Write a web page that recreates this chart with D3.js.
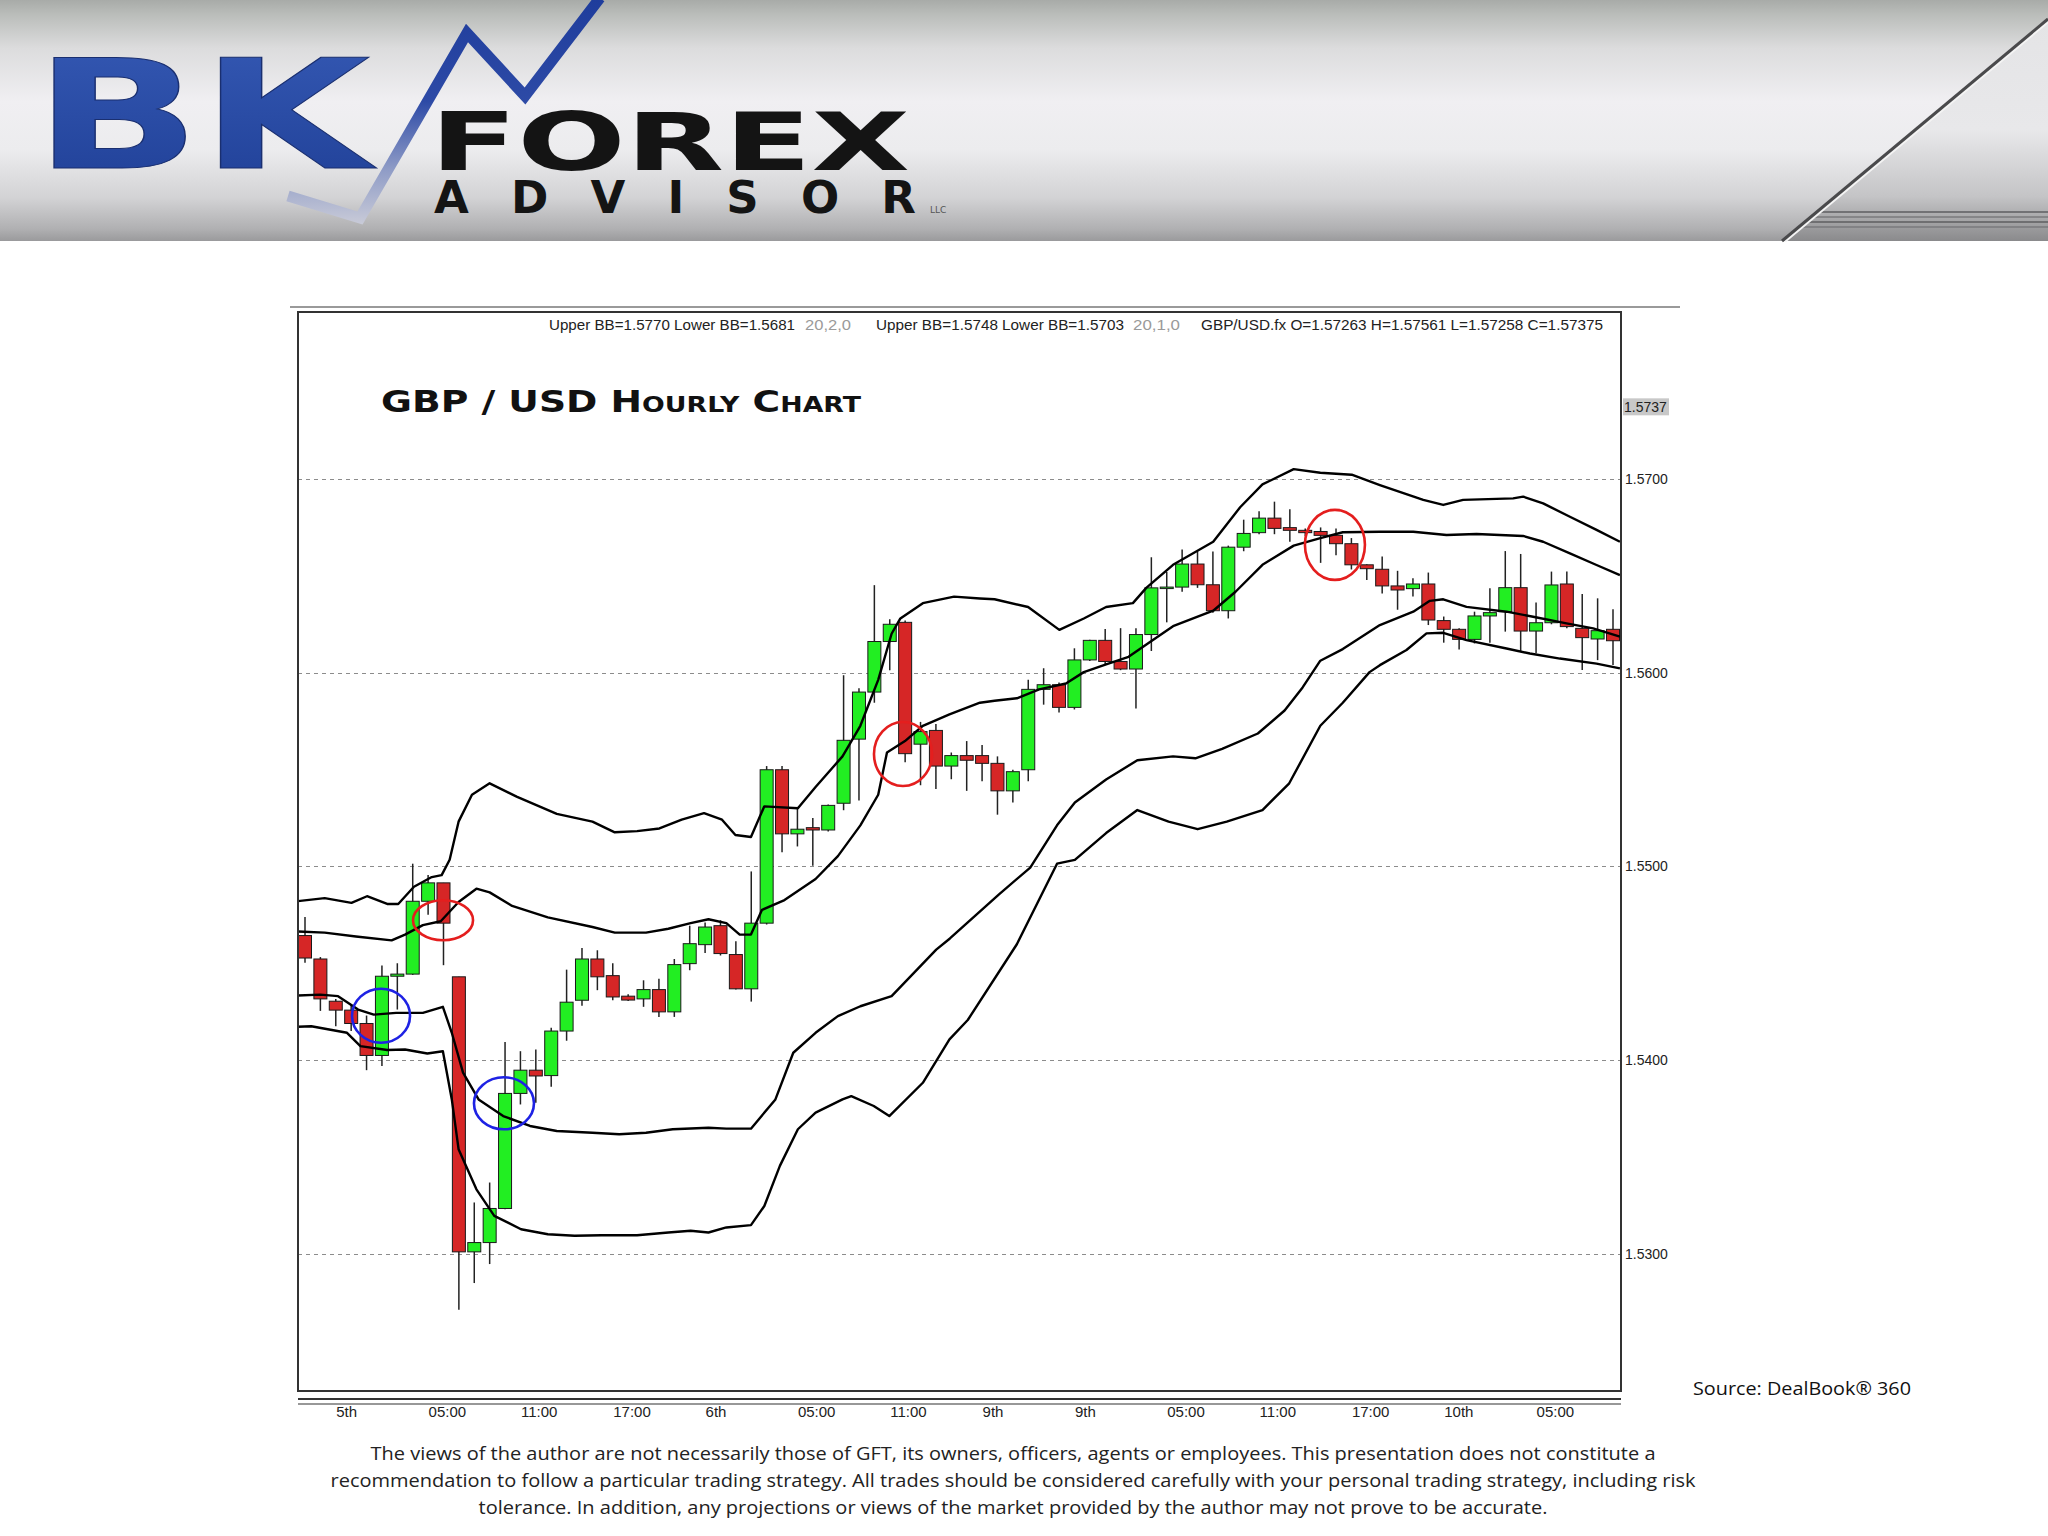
<!DOCTYPE html>
<html><head><meta charset="utf-8">
<script src="https://cdn.jsdelivr.net/npm/d3@7"></script>
<style>body{margin:0;background:#fff}svg{display:block}</style>
</head><body><svg id="c" width="2048" height="1536"></svg>
<script>
// ---------------- DATA ----------------
const opens = [1.54643,1.54522,1.54304,1.54258,1.54189,1.54024,1.54433,1.54444,1.54820,1.54915,
1.54430,1.53010,1.53058,1.53234,1.53828,1.53948,1.53920,1.54150,1.54309,1.54522,
1.54436,1.54330,1.54316,1.54364,1.54249,1.54498,1.54596,1.54694,1.54545,1.54368,
1.54707,1.55499,1.55168,1.55200,1.55188,1.55326,1.55657,1.55900,1.56161,1.56260,
1.55631,1.55702,1.55518,1.55572,1.55572,1.55532,1.55390,1.55499,1.55914,1.55938,
1.55821,1.56066,1.56167,1.56058,1.56019,1.56197,1.56438,1.56442,1.56561,1.56454,
1.56320,1.56648,1.56723,1.56798,1.56749,1.56735,1.56729,1.56709,1.56666,1.56557,
1.56534,1.56448,1.56434,1.56458,1.56269,1.56224,1.56172,1.56293,1.56315,1.56439,
1.56215,1.56258,1.56458,1.56229,1.56174,1.56224];
const highs = [1.54739,1.54532,1.54316,1.54290,1.54230,1.54488,1.54500,1.55014,1.54955,1.54915,
1.54430,1.53265,1.53368,1.54093,1.54046,1.54055,1.54167,1.54467,1.54579,1.54567,
1.54500,1.54340,1.54412,1.54420,1.54522,1.54694,1.54711,1.54722,1.54613,1.54974,
1.55518,1.55518,1.55307,1.55250,1.55320,1.55987,1.55920,1.56452,1.56276,1.56270,
1.55746,1.55735,1.55588,1.55647,1.55627,1.55568,1.55499,1.55963,1.56023,1.55950,
1.56126,1.56170,1.56225,1.56230,1.56230,1.56596,1.56520,1.56636,1.56626,1.56626,
1.56656,1.56790,1.56834,1.56883,1.56844,1.56745,1.56750,1.56745,1.56695,1.56560,
1.56600,1.56526,1.56488,1.56517,1.56290,1.56230,1.56315,1.56436,1.56628,1.56613,
1.56362,1.56522,1.56522,1.56406,1.56384,1.56327];
const lows = [1.54502,1.54254,1.54175,1.54150,1.53948,1.53969,1.54261,1.54440,1.54750,1.54490,
1.52711,1.52849,1.52947,1.53230,1.53771,1.53780,1.53863,1.54100,1.54280,1.54361,
1.54309,1.54305,1.54275,1.54223,1.54223,1.54464,1.54553,1.54540,1.54364,1.54302,
1.54700,1.55073,1.55103,1.55004,1.55180,1.55290,1.55340,1.55845,1.56013,1.55538,
1.55419,1.55400,1.55450,1.55390,1.55439,1.55267,1.55330,1.55439,1.55835,1.55795,
1.55810,1.56060,1.56040,1.56013,1.55815,1.56112,1.56260,1.56418,1.56438,1.56310,
1.56280,1.56627,1.56715,1.56715,1.56676,1.56705,1.56567,1.56606,1.56533,1.56478,
1.56409,1.56325,1.56393,1.56246,1.56155,1.56120,1.56151,1.56155,1.56212,1.56108,
1.56100,1.56250,1.56230,1.56014,1.56065,1.56040];
const closes = [1.54527,1.54316,1.54258,1.54189,1.54024,1.54433,1.54444,1.54820,1.54915,1.54707,
1.53010,1.53058,1.53234,1.53828,1.53948,1.53918,1.54150,1.54299,1.54522,1.54430,
1.54326,1.54310,1.54364,1.54249,1.54493,1.54601,1.54687,1.54550,1.54368,1.54707,
1.55499,1.55168,1.55192,1.55188,1.55315,1.55651,1.55900,1.56161,1.56250,1.55582,
1.55696,1.55518,1.55572,1.55548,1.55532,1.55390,1.55489,1.55914,1.55938,1.55821,
1.56066,1.56167,1.56058,1.56019,1.56197,1.56438,1.56442,1.56561,1.56454,1.56320,
1.56648,1.56719,1.56798,1.56745,1.56735,1.56723,1.56709,1.56666,1.56557,1.56537,
1.56448,1.56427,1.56458,1.56272,1.56224,1.56172,1.56293,1.56310,1.56439,1.56215,
1.56258,1.56453,1.56238,1.56181,1.56217,1.56165];

// Bollinger lines: [candle position, price]
const upperBB2 = [[-0.52,1.5482],[1.28,1.54836],[3.02,1.54812],[4.03,1.54846],[5.34,1.54806],[6.06,1.54806],[7.08,1.54895],[8.24,1.54945],[8.88,1.54955],[9.4,1.55034],[9.98,1.55231],[10.85,1.5537],[12.0,1.55429],[13.75,1.5536],[16.36,1.55271],[18.68,1.55231],[20.13,1.55176],[21.58,1.55182],[23.03,1.55196],[24.48,1.55241],[25.93,1.55275],[27.1,1.55241],[27.97,1.55162],[28.98,1.55152],[29.85,1.5531],[32.03,1.553],[33.18,1.5541],[34.93,1.55568],[36.09,1.55726],[37.25,1.55963],[38.12,1.56201],[38.69,1.5628],[40.15,1.56359],[42.18,1.56393],[43.86,1.56383],[44.81,1.56379],[46.99,1.56339],[49.02,1.56221],[50.61,1.5628],[52.06,1.56339],[53.8,1.56359],[54.67,1.56438],[56.41,1.56557],[59.02,1.56676],[60.77,1.56854],[62.22,1.56972],[64.25,1.57051],[65.98,1.57032],[68.02,1.57022],[69.85,1.56969],[72.67,1.56892],[73.97,1.56866],[75.26,1.56892],[78.51,1.569],[79.16,1.56909],[80.46,1.56874],[82.2,1.56805],[83.93,1.56737],[85.45,1.56676]];
const upperBB1 = [[-0.52,1.54664],[1.28,1.54658],[3.31,1.54638],[5.63,1.54618],[6.5,1.54648],[7.66,1.54697],[8.82,1.54717],[9.98,1.54816],[11.14,1.54885],[12.0,1.54866],[13.46,1.54796],[15.78,1.54737],[18.68,1.54687],[20.13,1.54658],[22.16,1.54658],[23.61,1.54678],[25.06,1.54707],[26.22,1.54727],[27.38,1.54707],[28.25,1.54648],[28.98,1.54648],[29.7,1.54776],[31.16,1.54826],[33.18,1.54935],[34.63,1.55053],[36.09,1.55212],[37.25,1.5537],[37.82,1.55588],[38.99,1.55647],[40.15,1.55726],[41.88,1.55785],[43.86,1.55845],[44.81,1.55855],[46.26,1.55868],[47.71,1.55914],[49.45,1.55944],[50.61,1.56003],[52.06,1.56043],[53.52,1.56082],[54.96,1.56161],[56.41,1.5624],[59.02,1.5632],[60.47,1.56418],[62.22,1.56557],[64.25,1.56656],[65.98,1.56695],[67.44,1.56725],[69.85,1.56728],[72.02,1.56728],[74.18,1.56711],[76.13,1.56716],[79.16,1.56706],[80.46,1.56676],[82.2,1.56616],[83.93,1.56556],[85.45,1.56504]];
const lowerBB1 = [[-0.52,1.54333],[0.99,1.54338],[2.15,1.5433],[3.45,1.54261],[4.47,1.54235],[5.92,1.54244],[7.66,1.54244],[8.96,1.54275],[9.54,1.54141],[10.27,1.53935],[11.28,1.53797],[12.88,1.53711],[14.62,1.5366],[16.36,1.53634],[18.68,1.53625],[20.42,1.53617],[22.16,1.53625],[23.9,1.53643],[26.22,1.53651],[27.38,1.53646],[28.98,1.53646],[30.57,1.53797],[31.73,1.54038],[33.18,1.54141],[34.63,1.54227],[36.09,1.54278],[38.12,1.5433],[41.02,1.5457],[41.91,1.54628],[45.1,1.54856],[47.13,1.54994],[48.87,1.55212],[50.03,1.5533],[52.06,1.55449],[54.09,1.55548],[56.41,1.55568],[57.86,1.55558],[59.6,1.55607],[61.92,1.55686],[63.66,1.55805],[64.83,1.55924],[65.98,1.56062],[67.44,1.56122],[69.85,1.56246],[72.02,1.56315],[73.1,1.56371],[73.97,1.56379],[75.48,1.5634],[78.08,1.56315],[79.81,1.56289],[81.98,1.56255],[83.71,1.56229],[85.45,1.56186]];
const lowerBB2 = [[-0.52,1.54172],[0.41,1.54175],[1.57,1.54158],[2.73,1.54141],[3.6,1.54072],[5.34,1.54052],[6.5,1.54055],[7.95,1.54034],[8.96,1.54046],[9.54,1.53797],[9.98,1.5354],[11.14,1.53333],[12.3,1.53196],[14.04,1.53127],[15.78,1.53101],[17.52,1.53093],[19.26,1.53096],[21.58,1.53096],[23.61,1.5311],[25.06,1.53119],[26.22,1.5311],[27.38,1.53136],[28.98,1.53148],[29.85,1.53247],[30.86,1.53454],[32.03,1.53643],[33.18,1.53729],[34.93,1.53797],[35.5,1.53814],[36.96,1.53763],[37.97,1.53711],[40.15,1.53883],[41.88,1.54107],[43.07,1.54207],[46.26,1.54598],[48.87,1.55014],[50.03,1.55034],[52.06,1.55172],[54.09,1.55291],[56.12,1.55231],[58.01,1.55192],[59.9,1.55231],[62.22,1.55291],[63.96,1.55429],[65.98,1.55726],[67.44,1.55845],[69.18,1.56003],[69.85,1.56039],[71.58,1.56117],[72.88,1.56203],[73.97,1.56206],[75.48,1.56168],[78.08,1.56125],[79.6,1.56099],[81.55,1.56073],[83.93,1.56047],[85.45,1.56022]];

const timeLabels = ["5th","05:00","11:00","17:00","6th","05:00","11:00","9th","9th","05:00","11:00","17:00","10th","05:00"];
const timeLabelPos = [2,8,14,20,26,32,38,44,50,56,62,68,74,80];
const priceTicks = [1.53,1.54,1.55,1.56,1.57];
const lastPrice = 1.5737;

// annotation circles: [candle position, price, colour]
const marks = [[8.97,1.54722,"red"],[4.94,1.54229,"blue"],[12.93,1.53777,"blue"],[38.86,1.5558,"red"],[66.93,1.5666,"red"]];

const infoParts = ["Upper BB=1.5770 Lower BB=1.5681","20,2,0","Upper BB=1.5748 Lower BB=1.5703","20,1,0","GBP/USD.fx O=1.57263 H=1.57561 L=1.57258 C=1.57375"];
const disclaimer = [
"The views of the author are not necessarily those of GFT, its owners, officers, agents or employees. This presentation does not constitute a",
"recommendation to follow a particular trading strategy. All trades should be considered carefully with your personal trading strategy, including risk",
"tolerance. In addition, any projections or views of the market provided by the author may not prove to be accurate."];

// ---------------- DRAW ----------------
(function(){
const svg = d3.select("#c");
const defs = svg.append("defs");

// banner
const bg = defs.append("linearGradient").attr("id","ban").attr("x1",0).attr("y1",0).attr("x2",0).attr("y2",1);
[[0,"#a8aba8"],[0.06,"#babdba"],[0.2,"#dcdcdd"],[0.42,"#f0eff2"],[0.62,"#ececee"],[0.82,"#d3d3d5"],[0.95,"#b0b0b2"],[1,"#9a9a9c"]]
 .forEach(s=>bg.append("stop").attr("offset",s[0]).attr("stop-color",s[1]));
const bg2 = defs.append("linearGradient").attr("id","ban2").attr("x1",0).attr("y1",0).attr("x2",0).attr("y2",1);
[[0,"#e4e4e6"],[0.5,"#e8e8ea"],[0.8,"#c4c4c6"],[1,"#8a8a8c"]]
 .forEach(s=>bg2.append("stop").attr("offset",s[0]).attr("stop-color",s[1]));
const zz = defs.append("linearGradient").attr("id","zz").attr("gradientUnits","userSpaceOnUse").attr("x1",0).attr("y1",0).attr("x2",0).attr("y2",225);
[[0,"#1f3d9c"],[0.45,"#2d4aa6"],[0.75,"#8e9bc6"],[1,"#c9cbd8"]].forEach(s=>zz.append("stop").attr("offset",s[0]).attr("stop-color",s[1]));
const bk = defs.append("linearGradient").attr("id","bk").attr("x1",0).attr("y1",0).attr("x2",0).attr("y2",1);
[[0,"#3559b4"],[1,"#1f3f96"]].forEach(s=>bk.append("stop").attr("offset",s[0]).attr("stop-color",s[1]));

svg.append("rect").attr("x",0).attr("y",0).attr("width",2048).attr("height",241).attr("fill","url(#ban)");
svg.append("path").attr("d","M1782,241 L2048,19 L2048,241 Z").attr("fill","url(#ban2)");
[212,217,222,227].forEach((yy,i)=>{
  const x0 = 2048-(yy-19)*266/222;
  svg.append("line").attr("x1",x0).attr("x2",2048).attr("y1",yy).attr("y2",yy).attr("stroke",i%2?"#7a7a7c":"#5e5e60").attr("stroke-width",1.6);
});
svg.append("line").attr("x1",2048).attr("y1",19).attr("x2",1782).attr("y2",241).attr("stroke","#f4f4f4").attr("stroke-width",3).attr("transform","translate(3,0)");
svg.append("line").attr("x1",2048).attr("y1",19).attr("x2",1782).attr("y2",241).attr("stroke","#4a4a4c").attr("stroke-width",3);

svg.append("polyline").attr("points","288,196 360,218 467,33 525,96 600,-2")
  .attr("fill","none").attr("stroke","url(#zz)").attr("stroke-width",11).attr("stroke-linejoin","miter");

svg.append("text").attr("x",34).attr("y",168).attr("font-family","DejaVu Sans").attr("font-weight","bold")
  .attr("font-size",151).attr("textLength",336).attr("lengthAdjust","spacingAndGlyphs").attr("fill","url(#bk)")
  .attr("stroke","#1a2f70").attr("stroke-width",1).text("BK");
svg.append("text").attr("x",430).attr("y",170).attr("font-family","DejaVu Sans").attr("font-weight","bold")
  .attr("font-size",80).attr("textLength",480).attr("lengthAdjust","spacingAndGlyphs").attr("fill","#141414").text("FOREX");
svg.append("text").attr("x",434).attr("y",213).attr("font-family","DejaVu Sans").attr("font-weight","bold")
  .attr("font-size",45).attr("textLength",482).attr("lengthAdjust","spacing").attr("fill","#141414").text("ADVISOR");
svg.append("text").attr("x",930).attr("y",213).attr("font-family","DejaVu Sans").attr("font-size",9).attr("fill","#555").text("LLC");

// chart frame
const pL=298, pR=1621, pT=312, pB=1391;
svg.append("line").attr("x1",290).attr("x2",1680).attr("y1",307).attr("y2",307).attr("stroke","#9a9a9a").attr("stroke-width",2);
svg.append("rect").attr("x",pL).attr("y",pT).attr("width",pR-pL).attr("height",pB-pT).attr("fill","#fff");

const x = d3.scaleLinear().domain([0,85]).range([305,1613]);
const y = d3.scaleLinear().domain([1.53,1.57]).range([1253.8,479]);

defs.append("clipPath").attr("id","plot").append("rect").attr("x",pL).attr("y",pT).attr("width",pR-pL).attr("height",pB-pT);

// grid
svg.append("g").selectAll("line").data(priceTicks).join("line")
  .attr("x1",pL).attr("x2",pR).attr("y1",d=>Math.round(y(d))+0.5).attr("y2",d=>Math.round(y(d))+0.5)
  .attr("stroke","#8c8c8c").attr("stroke-width",1.2).attr("stroke-dasharray","4,4");

const plot = svg.append("g").attr("clip-path","url(#plot)");
const idx = d3.range(opens.length);
const bw = 13;
plot.append("g").selectAll("line").data(idx).join("line")
  .attr("x1",i=>x(i)).attr("x2",i=>x(i)).attr("y1",i=>y(highs[i])).attr("y2",i=>y(lows[i]))
  .attr("stroke","#222").attr("stroke-width",1.5);
plot.append("g").selectAll("rect").data(idx).join("rect")
  .attr("x",i=>x(i)-bw/2).attr("width",bw)
  .attr("y",i=>y(Math.max(opens[i],closes[i])))
  .attr("height",i=>Math.max(1.5,Math.abs(y(opens[i])-y(closes[i]))))
  .attr("fill",i=>closes[i]>=opens[i]?"#22ee22":"#d62626")
  .attr("stroke","#1a1a1a").attr("stroke-width",1);

const line = d3.line().x(d=>x(d[0])).y(d=>y(d[1]));
[upperBB2,upperBB1,lowerBB1,lowerBB2].forEach(b=>{
  plot.append("path").attr("d",line(b)).attr("fill","none").attr("stroke","#000").attr("stroke-width",2.4).attr("stroke-linejoin","round");
});

plot.append("g").selectAll("ellipse").data(marks).join("ellipse")
  .attr("cx",d=>x(d[0])).attr("cy",d=>y(d[1]))
  .attr("rx",(d,i)=>[30,29,30,29,30][i]).attr("ry",(d,i)=>[20,27,26,32,35][i])
  .attr("fill","none").attr("stroke",d=>d[2]==="red"?"#e41e1e":"#1e22e4").attr("stroke-width",2.6);

svg.append("rect").attr("x",pL).attr("y",pT).attr("width",pR-pL).attr("height",pB-pT)
  .attr("fill","none").attr("stroke","#333").attr("stroke-width",2);

// price axis
const yAxis = d3.axisRight(y).tickValues(priceTicks).tickSize(0).tickPadding(3).tickFormat(d3.format(".4f"));
const ya = svg.append("g").attr("transform",`translate(${pR+1},0)`).call(yAxis);
ya.select(".domain").remove();
ya.selectAll("text").attr("font-family","Liberation Sans, Arial, sans-serif").attr("font-size",14).attr("fill","#222");
svg.append("rect").attr("x",1623).attr("y",y(lastPrice)-9).attr("width",46).attr("height",17).attr("fill","#c8c8c8");
svg.append("text").attr("x",1624).attr("y",y(lastPrice)+5).attr("font-family","Liberation Sans, Arial, sans-serif")
  .attr("font-size",14).attr("fill","#222").text(d3.format(".4f")(lastPrice));

// time axis
svg.append("line").attr("x1",pL).attr("x2",pR).attr("y1",1399).attr("y2",1399).attr("stroke","#333").attr("stroke-width",2.2);
svg.append("line").attr("x1",pL).attr("x2",pR).attr("y1",1404).attr("y2",1404).attr("stroke","#333").attr("stroke-width",1.2);
const xAxis = d3.axisBottom(x).tickValues(timeLabelPos).tickSize(0).tickPadding(0)
  .tickFormat((d,i)=>timeLabels[i]);
const xa = svg.append("g").attr("transform","translate(0,1406)").call(xAxis);
xa.select(".domain").remove();
xa.selectAll("text").attr("text-anchor","start").attr("dy","0.75em").attr("font-family","Liberation Sans Narrow, Liberation Sans, Arial, sans-serif")
  .attr("font-size",15).attr("fill","#222");

// header text in chart
const infoX = [[549,246,"#222"],[805,46,"#9a9a9a"],[876,248,"#222"],[1133,47,"#9a9a9a"],[1201,402,"#222"]];
infoParts.forEach((t,i)=>{
  svg.append("text").attr("x",infoX[i][0]).attr("y",330).attr("font-family","Liberation Sans Narrow, Liberation Sans, Arial, sans-serif")
    .attr("font-size",14).attr("textLength",infoX[i][1]).attr("lengthAdjust","spacingAndGlyphs").attr("fill",infoX[i][2]).text(t);
});
svg.append("text").attr("x",381).attr("y",412).attr("font-family","DejaVu Sans, sans-serif").attr("font-weight","bold")
  .attr("font-size",31).attr("font-variant","small-caps").attr("textLength",480).attr("lengthAdjust","spacingAndGlyphs")
  .attr("fill","#111").text("GBP / USD Hourly Chart");

// source + disclaimer
svg.append("text").attr("x",1693).attr("y",1395).attr("font-family","Open Sans, sans-serif").attr("font-size",18)
  .attr("textLength",218).attr("lengthAdjust","spacingAndGlyphs").attr("fill","#111").text("Source: DealBook\u00AE  360");
const dW = [1285,1365,1069];
disclaimer.forEach((t,i)=>{
  svg.append("text").attr("x",1013-dW[i]/2).attr("y",1460+27*i).attr("font-family","Open Sans, sans-serif").attr("font-size",19)
    .attr("textLength",dW[i]).attr("lengthAdjust","spacingAndGlyphs").attr("fill","#222").text(t);
});
})();
</script></body></html>
